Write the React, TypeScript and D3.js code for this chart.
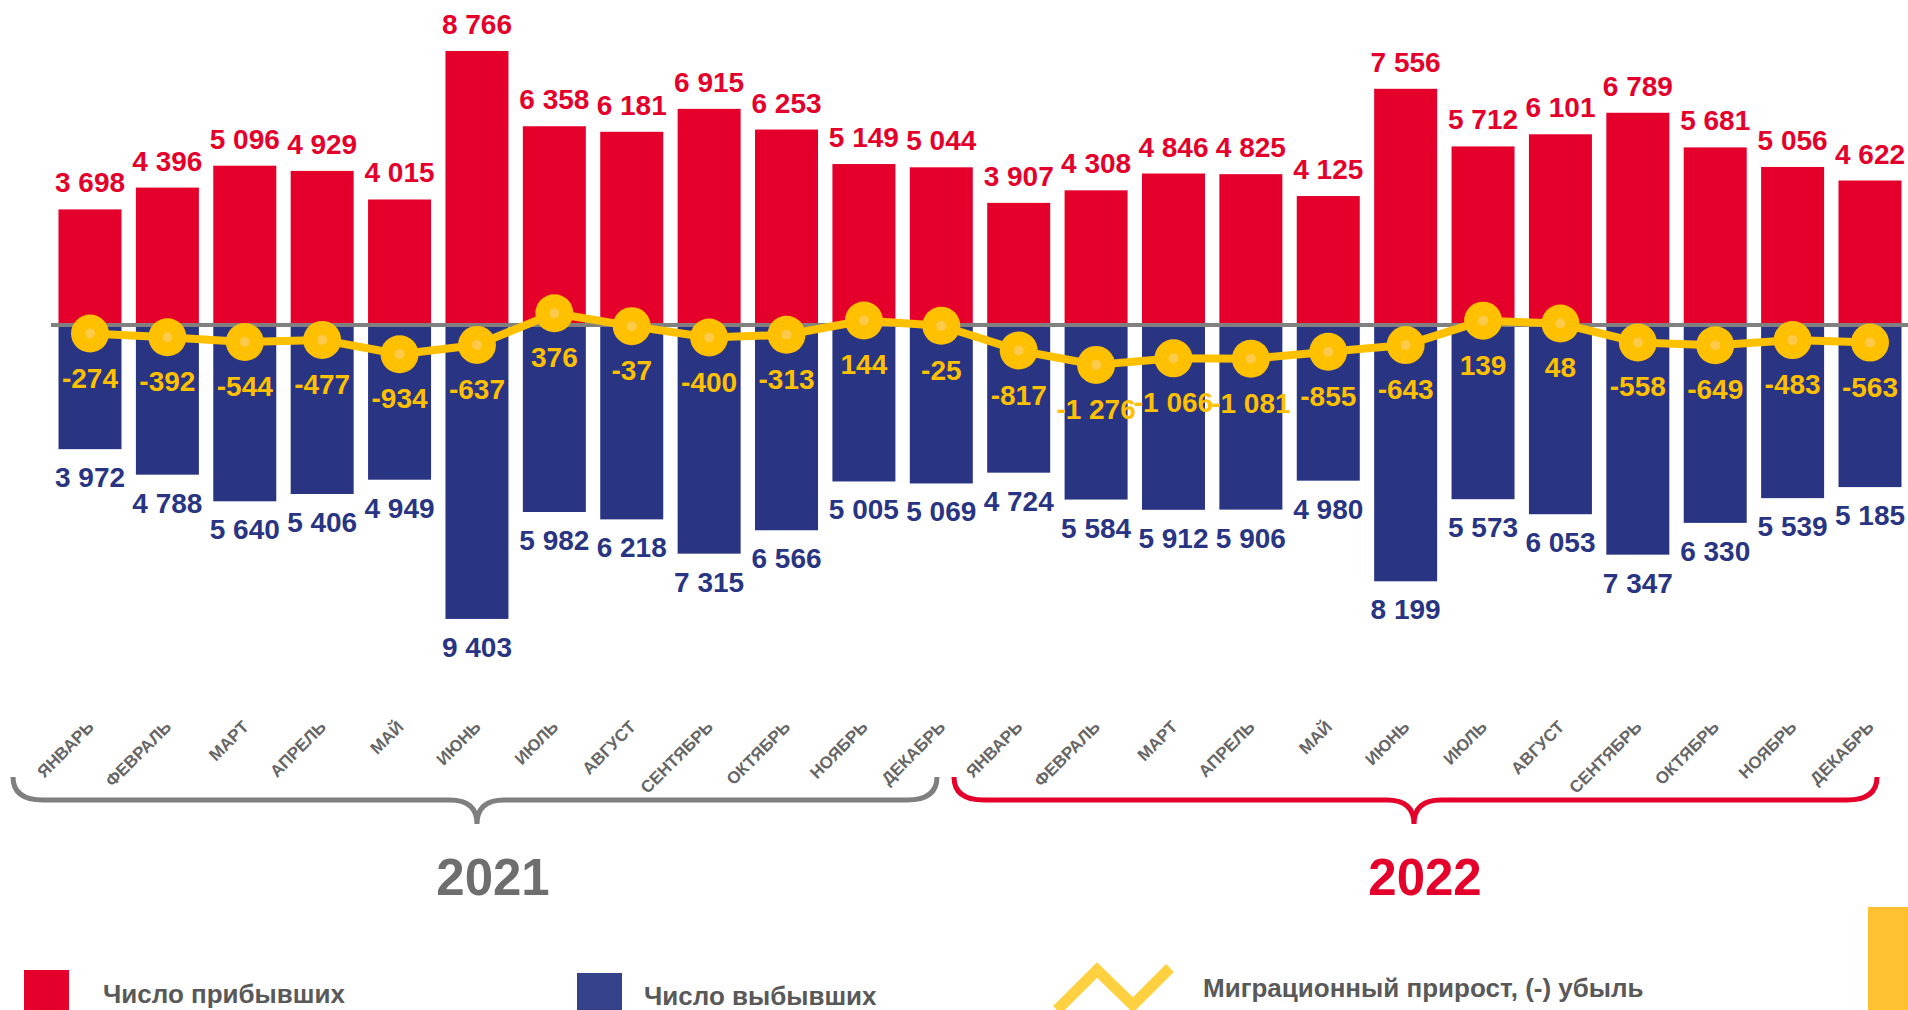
import { useEffect, useRef } from 'react';
import * as d3 from 'd3';

const months = [
  'ЯНВАРЬ', 'ФЕВРАЛЬ', 'МАРТ', 'АПРЕЛЬ', 'МАЙ', 'ИЮНЬ',
  'ИЮЛЬ', 'АВГУСТ', 'СЕНТЯБРЬ', 'ОКТЯБРЬ', 'НОЯБРЬ', 'ДЕКАБРЬ',
];
const years = ['2021', '2022'];

const arrived = [
  3698, 4396, 5096, 4929, 4015, 8766, 6358, 6181, 6915, 6253, 5149, 5044,
  3907, 4308, 4846, 4825, 4125, 7556, 5712, 6101, 6789, 5681, 5056, 4622,
];
const departed = [
  3972, 4788, 5640, 5406, 4949, 9403, 5982, 6218, 7315, 6566, 5005, 5069,
  4724, 5584, 5912, 5906, 4980, 8199, 5573, 6053, 7347, 6330, 5539, 5185,
];
const netGrowth = [
  -274, -392, -544, -477, -934, -637, 376, -37, -400, -313, 144, -25,
  -817, -1276, -1066, -1081, -855, -643, 139, 48, -558, -649, -483, -563,
];

const legendLabels = ['Число прибывших', 'Число выбывших', 'Миграционный прирост, (-) убыль'];

const RED = '#E4002B';
const BLUE = '#293583';
const GOLD = '#FFC000';
const GRAY = '#595959';
const FONT = '"Liberation Sans", Arial, sans-serif';

const fmt = (v: number) => d3.format(',')(v).replace(/,/g, ' ').replace('−', '-');

const Chart = () => {
  const ref = useRef<SVGSVGElement>(null);

  useEffect(() => {
    document.body.style.margin = '0';
    const svg = d3.select(ref.current);
    svg.selectAll('*').remove();

    const n = arrived.length;
    const idx = d3.range(n);

    const x = d3
      .scaleBand<number>()
      .domain(idx)
      .range([51.3, 1908.7])
      .paddingInner(0.186)
      .paddingOuter(0.093);

    const y = d3.scaleLinear().domain([-10000, 10000]).range([637.6, 12.4]);
    const cx = (i: number) => (x(i) as number) + x.bandwidth() / 2;

    // bars
    svg
      .append('g')
      .selectAll('rect')
      .data(arrived)
      .enter()
      .append('rect')
      .attr('x', (_, i) => x(i) as number)
      .attr('y', (d) => y(d))
      .attr('width', x.bandwidth())
      .attr('height', (d) => y(0) - y(d))
      .attr('fill', RED);

    svg
      .append('g')
      .selectAll('rect')
      .data(departed)
      .enter()
      .append('rect')
      .attr('x', (_, i) => x(i) as number)
      .attr('y', y(0))
      .attr('width', x.bandwidth())
      .attr('height', (d) => y(0) - y(d))
      .attr('fill', BLUE);

    svg
      .append('line')
      .attr('x1', 51)
      .attr('x2', 1908)
      .attr('y1', y(0))
      .attr('y2', y(0))
      .attr('stroke', '#808080')
      .attr('stroke-width', 4);

    // bar labels
    svg
      .append('g')
      .selectAll('text')
      .data(arrived)
      .enter()
      .append('text')
      .attr('x', (_, i) => cx(i))
      .attr('y', (d) => y(d) - 17)
      .attr('text-anchor', 'middle')
      .attr('font-family', FONT)
      .attr('font-weight', 'bold')
      .attr('font-size', 28)
      .attr('fill', RED)
      .text((d) => fmt(d));

    svg
      .append('g')
      .selectAll('text')
      .data(departed)
      .enter()
      .append('text')
      .attr('x', (_, i) => cx(i))
      .attr('y', (d) => y(-d) + 38)
      .attr('text-anchor', 'middle')
      .attr('font-family', FONT)
      .attr('font-weight', 'bold')
      .attr('font-size', 28)
      .attr('fill', BLUE)
      .text((d) => fmt(d));

    // net migration line
    const line = d3
      .line<number>()
      .x((_, i) => cx(i))
      .y((d) => y(d));

    svg
      .append('path')
      .datum(netGrowth)
      .attr('d', line)
      .attr('fill', 'none')
      .attr('stroke', GOLD)
      .attr('stroke-width', 8)
      .attr('stroke-linejoin', 'round');

    const pts = svg.append('g').selectAll('g').data(netGrowth).enter().append('g');
    pts
      .append('circle')
      .attr('cx', (_, i) => cx(i))
      .attr('cy', (d) => y(d))
      .attr('r', 19)
      .attr('fill', GOLD);
    pts
      .append('circle')
      .attr('cx', (_, i) => cx(i))
      .attr('cy', (d) => y(d))
      .attr('r', 5)
      .attr('fill', '#FFC94A');

    svg
      .append('g')
      .selectAll('text')
      .data(netGrowth)
      .enter()
      .append('text')
      .attr('x', (_, i) => cx(i))
      .attr('y', (d) => y(d) + 54)
      .attr('text-anchor', 'middle')
      .attr('font-family', FONT)
      .attr('font-weight', 'bold')
      .attr('font-size', 28)
      .attr('fill', GOLD)
      .text((d) => fmt(d));

    // month labels
    svg
      .append('g')
      .selectAll('text')
      .data(idx)
      .enter()
      .append('text')
      .attr('transform', (i) => `translate(${cx(i) + 5},728) rotate(-45)`)
      .attr('text-anchor', 'end')
      .attr('font-family', FONT)
      .attr('font-weight', 'bold')
      .attr('font-size', 17)
      .attr('fill', '#666666')
      .text((i) => months[i % 12]);

    // year braces
    const brace = (x0: number, x1: number, mid: number) => {
      const top = 777;
      const ly = 800;
      const tip = 824;
      const r = 30;
      const h = 27;
      return `M${x0},${top} Q${x0},${ly} ${x0 + r},${ly} L${mid - h},${ly} Q${mid},${ly} ${mid},${tip} Q${mid},${ly} ${mid + h},${ly} L${x1 - r},${ly} Q${x1},${ly} ${x1},${top}`;
    };

    const yearColors = ['#7F7F7F', RED];
    const yearText = ['#6E6E6E', RED];
    const braces = [
      { x0: 13, x1: 937, mid: 477, tx: 493 },
      { x0: 954, x1: 1877, mid: 1414, tx: 1425 },
    ];
    braces.forEach((b, k) => {
      svg
        .append('path')
        .attr('d', brace(b.x0, b.x1, b.mid))
        .attr('fill', 'none')
        .attr('stroke', yearColors[k])
        .attr('stroke-width', 5);
      svg
        .append('text')
        .attr('x', b.tx)
        .attr('y', 895)
        .attr('text-anchor', 'middle')
        .attr('font-family', FONT)
        .attr('font-weight', 'bold')
        .attr('font-size', 51)
        .attr('fill', yearText[k])
        .text(years[k]);
    });

    // legend
    svg.append('rect').attr('x', 24).attr('y', 970).attr('width', 45).attr('height', 45).attr('fill', RED);
    svg.append('rect').attr('x', 577).attr('y', 973).attr('width', 45).attr('height', 45).attr('fill', '#344389');
    svg
      .append('path')
      .attr('d', 'M1057,1010 L1097,970 L1133,1005 L1170,968')
      .attr('fill', 'none')
      .attr('stroke', '#FFD040')
      .attr('stroke-width', 11);

    const legendPos = [
      [103, 1003],
      [644, 1005],
      [1203, 997],
    ];
    legendLabels.forEach((t, k) => {
      svg
        .append('text')
        .attr('x', legendPos[k][0])
        .attr('y', legendPos[k][1])
        .attr('font-family', FONT)
        .attr('font-weight', 'bold')
        .attr('font-size', 26)
        .attr('fill', GRAY)
        .text(t);
    });

    svg.append('rect').attr('x', 1868).attr('y', 907).attr('width', 40).attr('height', 103).attr('fill', '#FFC12F');
  }, []);

  return <svg ref={ref} width={1908} height={1010} style={{ display: 'block', background: '#fff' }}></svg>;
};

export default function App() {
  return <Chart />;
}
